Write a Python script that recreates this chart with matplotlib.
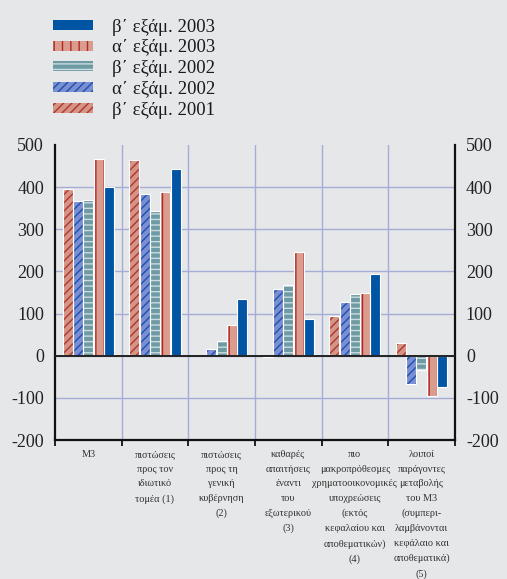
import matplotlib
matplotlib.use("Agg")
import matplotlib.pyplot as plt
import matplotlib.patches as mpatches
import numpy as np

plt.rcParams["font.family"] = ["Liberation Serif", "DejaVu Serif"]
plt.rcParams["hatch.linewidth"] = 1.0

categories = [
    "M3",
    "πιστώσεις\nπρος τον\nιδιωτικό\nτομέα (1)",
    "πιστώσεις\nπρος τη\nγενική\nκυβέρνηση\n(2)",
    "καθαρές\nαπαιτήσεις\nέναντι\nτου\nεξωτερικού\n(3)",
    "πιο\nμακροπρόθεσμες\nχρηματοοικονομικές\nυποχρεώσεις\n(εκτός\nκεφαλαίου και\nαποθεματικών)\n(4)",
    "λοιποί\nπαράγοντες\nμεταβολής\nτου M3\n(συμπερι-\nλαμβάνονται\nκεφάλαιο και\nαποθεματικά)\n(5)",
]

# series in drawing order (left to right inside each group)
series_labels = ["β΄ εξάμ. 2001", "α΄ εξάμ. 2002", "β΄ εξάμ. 2002", "α΄ εξάμ. 2003", "β΄ εξάμ. 2003"]
b2001 = [396, 464, 0, -3, 95, 31]
a2002 = [366, 384, 16, 159, 128, -66]
b2002 = [370, 344, 36, 167, 147, -33]
a2003 = [466, 389, 73, 245, 150, -95]
b2003 = [401, 443, 135, 87, 194, -73]
series_values = [b2001, a2002, b2002, a2003, b2003]

yticks = [500, 400, 300, 200, 100, 0, -100, -200]

# face colour, hatch colour, hatch pattern
styles = [
    ("#d49486", "#b2352c", "////"),
    ("#7a8fcf", "#1e4fb4", "////"),
    ("#6e9aa3", "#c9dcdf", "---"),
    ("#d99c8e", "#b22a26", "||"),
    ("#0054a4", None, None),
]

bg = "#e6e7e9"
grid_c = "#a4acd8"

fig = plt.figure(figsize=(5.07, 5.79), dpi=100, facecolor=bg)
ax = fig.add_axes([0.1085, 0.24, 0.7885, 0.5096])
ax.set_facecolor(bg)

x = np.arange(len(categories))
width = 0.15
pitch = 0.155
for k, (vals, (face, hc, hatch)) in enumerate(zip(series_values, styles)):
    pos = x + (k - 2) * pitch
    ax.bar(pos, vals, width, color=face, linewidth=0, zorder=3)
    if hatch:
        ax.bar(pos, vals, width, fill=False, edgecolor=hc, hatch=hatch,
               linewidth=0, zorder=4)
    ax.bar(pos, vals, width, fill=False, edgecolor="white", linewidth=0.8, zorder=5)

ax.set_xlim(-0.5, len(categories) - 0.5)
ax.set_ylim(-200, 500)
ax.set_yticks(yticks)
ax.set_yticklabels([str(v) for v in yticks], fontsize=13)
ax.tick_params(axis="y", length=0, pad=8)

# category boundaries as vertical grid lines and bottom ticks
bounds = np.arange(len(categories) + 1) - 0.5
for b in bounds[1:-1]:
    ax.axvline(b, color=grid_c, linewidth=1.0, zorder=1)
for v in yticks[1:-1]:
    ax.axhline(v, color=grid_c, linewidth=1.0, zorder=1)
ax.axhline(-200, color="white", linewidth=1.2, zorder=2)
ax.axhline(0, color="#222222", linewidth=1.4, zorder=6)

ax.set_xticks(bounds)
ax.set_xticklabels([])
ax.tick_params(axis="x", direction="out", length=4, width=1.2)
for i, lab in enumerate(categories):
    ax.text(i, -224, lab, ha="center", va="top", fontsize=7.4, linespacing=1.8,
            color="#333333", transform=ax.transData)

for side in ["left", "right", "bottom"]:
    ax.spines[side].set_linewidth(1.6)
    ax.spines[side].set_color("#111111")
ax.spines["top"].set_visible(False)

ax2 = ax.twinx()
ax2.set_ylim(-200, 500)
ax2.set_yticks(yticks)
ax2.set_yticklabels([str(v) for v in yticks], fontsize=13)
ax2.tick_params(axis="y", length=0, pad=8)
for s in ax2.spines.values():
    s.set_visible(False)

for t in ax.get_yticklabels() + ax2.get_yticklabels():
    t.set_color("#222222")

# legend, newest half-year on top
handles = []
for (face, hc, hatch), lab in zip(styles, series_labels):
    if hatch:
        h = mpatches.Patch(facecolor=face, edgecolor=hc, hatch=hatch, linewidth=0, label=lab)
    else:
        h = mpatches.Patch(facecolor=face, edgecolor=face, linewidth=0, label=lab)
    handles.append(h)
leg = fig.legend(handles[::-1], series_labels[::-1], loc="upper left",
                 bbox_to_anchor=(0.072, 0.997), frameon=False, fontsize=13.5,
                 handlelength=2.1, handleheight=0.45, labelspacing=0.2,
                 handletextpad=1.0)
for t in leg.get_texts():
    t.set_color("#1a1a1a")

fig.savefig("out.png", dpi=100, facecolor=bg)
